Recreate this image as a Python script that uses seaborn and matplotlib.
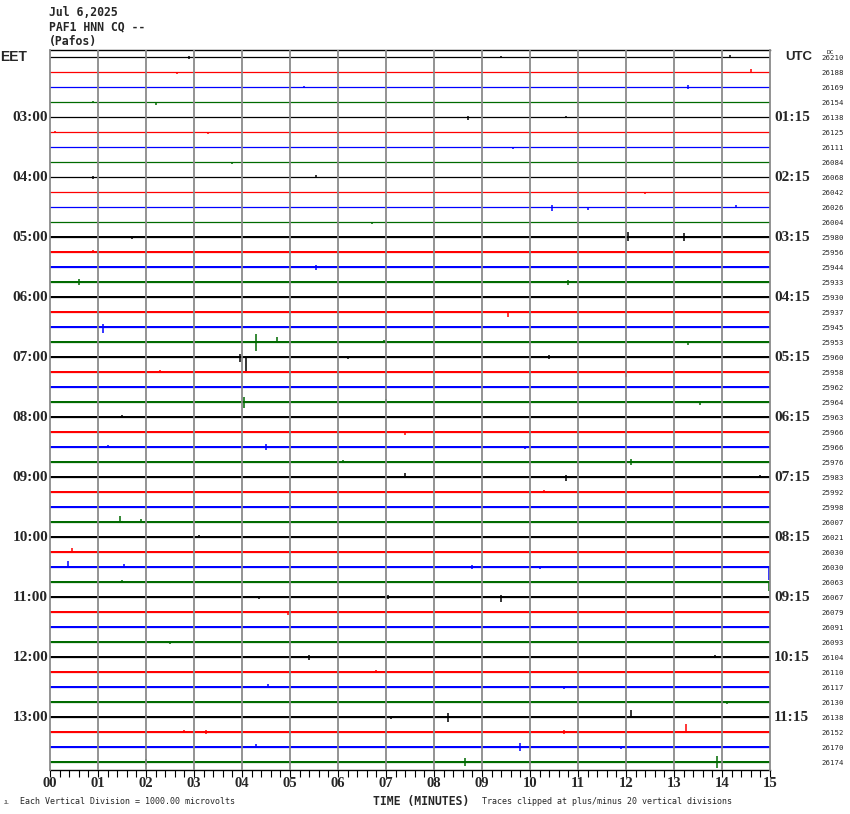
import matplotlib
matplotlib.use("Agg")
import matplotlib.pyplot as plt
import matplotlib.transforms as mtransforms
import numpy as np
import pandas as pd
import seaborn as sns

title_lines = ["Jul 6,2025", "PAF1 HNN CQ --", "(Pafos)"]

eet_labels = ["EET", "", "", "", "03:00", "", "", "", "04:00", "", "", "", "05:00", "", "", "",
              "06:00", "", "", "", "07:00", "", "", "", "08:00", "", "", "", "09:00", "", "", "",
              "10:00", "", "", "", "11:00", "", "", "", "12:00", "", "", "", "13:00", "", "", ""]
utc_labels = ["UTC", "", "", "", "01:15", "", "", "", "02:15", "", "", "", "03:15", "", "", "",
              "04:15", "", "", "", "05:15", "", "", "", "06:15", "", "", "", "07:15", "", "", "",
              "08:15", "", "", "", "09:15", "", "", "", "10:15", "", "", "", "11:15", "", "", ""]

dc_values = [26210, 26188, 26169, 26154, 26138, 26125, 26111, 26084, 26068, 26042, 26026, 26004,
             25980, 25956, 25944, 25933, 25930, 25937, 25945, 25953, 25960, 25958, 25962, 25964,
             25963, 25966, 25966, 25976, 25983, 25992, 25998, 26007, 26021, 26030, 26030, 26063,
             26067, 26079, 26091, 26093, 26104, 26110, 26117, 26130, 26138, 26152, 26170, 26174]

# background noise half-width per trace (1/15 of trace spacing)
noise = [0.5, 0.5, 0.5, 0.5, 0.5, 0.5, 0.5, 0.5, 0.5, 0.5, 0.5, 0.5,
         0.8, 0.8, 0.8, 0.9, 1.2, 1.2, 1.2, 1.2, 1.2, 1.2, 1.2, 1.2,
         1.2, 1.2, 1.2, 1.2, 1.2, 1.2, 1.2, 1.2, 1.3, 1.3, 1.4, 1.3,
         1.3, 1.3, 1.3, 1.3, 1.3, 1.3, 1.3, 1.3, 1.3, 1.3, 1.3, 1.3]

# spikes: trace index, minute, excursion up / down (1/15 of trace spacing)
spike_row = [0, 0, 0, 0, 0, 1, 1, 1, 2, 2, 3, 3, 3, 4, 4, 5, 5, 6, 7, 7, 8, 8, 9,
             10, 10, 10, 11, 12, 12, 12, 13, 14, 15, 15, 16, 17, 18, 18,
             19, 19, 19, 19, 20, 20, 20, 20, 21, 21, 22, 23, 23, 23, 24, 25, 25,
             26, 26, 26, 27, 27, 28, 28, 28, 29, 30, 31, 31, 32, 33, 33,
             34, 34, 34, 34, 34, 35, 35, 36, 36, 36, 37, 38, 39, 40, 40, 41,
             42, 42, 43, 44, 44, 44, 44, 45, 45, 45, 45, 46, 46, 46, 47, 47, 47, 47]
spike_minute = [2.9, 9.4, 14.17, 4.25, 6.1, 14.6, 7.45, 2.65, 13.3, 5.3, 2.2, 14.5, 0.9, 8.7, 10.75,
                3.3, 0.1, 9.65, 3.8, 13.0, 0.9, 5.55, 12.4,
                10.45, 14.3, 11.2, 6.7, 12.05, 13.2, 1.7, 0.9, 5.55, 0.6, 10.8, 5.0, 9.55, 1.1, 14.0,
                4.3, 4.72, 6.95, 13.3, 3.95, 4.08, 10.4, 6.2, 12.0, 2.3, 7.3, 4.05, 13.55, 7.0,
                1.5, 7.4, 4.0,
                4.5, 9.9, 1.2, 12.1, 6.1, 7.4, 10.75, 14.8, 10.3, 5.0, 1.45, 1.9, 3.1, 0.45, 12.5,
                0.37, 1.55, 14.97, 8.8, 10.2, 14.97, 1.5, 9.4, 7.05, 4.35, 4.95, 6.5, 2.5, 5.4, 13.85, 6.8,
                4.55, 10.7, 14.1, 8.3, 12.1, 2.0, 7.1, 13.25, 3.25, 10.7, 2.8, 9.8, 4.3, 11.9,
                2.0, 8.65, 13.9, 12.4]
spike_up = [1, 1, 2, 0, 0, 3, 0, 0, 2, 1, 0, 0, 1, 1, 1, 0, 1, 0, 0, 2, 1, 2, 0,
            2, 2, 0, 0, 5, 4, 1, 2, 2, 3, 2, 1, 0, 3, 1,
            8, 5, 2, 0, 3, 0, 2, 1, 0, 2, 1, 5, 1, 3, 2, 1, 1,
            3, 1, 2, 3, 2, 4, 2, 2, 2, 2, 6, 3, 2, 4, 1,
            6, 3, 1, 2, 1, 0, 2, 2, 2, 1, 1, 1, 0, 2, 2, 2,
            3, 1, 1, 4, 7, 2, 1, 8, 2, 2, 2, 4, 3, 1, 3, 4, 6, 1]
spike_down = [2, 1, 1, 1, 1, 0, 1, 2, 2, 0, 3, 1, 1, 3, 1, 2, 0, 2, 2, 0, 2, 0, 2,
              4, 1, 3, 2, 4, 4, 2, 0, 3, 3, 3, 1, 5, 6, 1,
              9, 0, 0, 3, 5, 14, 2, 2, 5, 0, 1, 6, 3, 0, 1, 3, 1,
              3, 2, 0, 3, 0, 0, 4, 0, 0, 2, 0, 0, 0, 0, 1,
              0, 0, 13, 2, 2, 9, 0, 5, 2, 2, 3, 1, 2, 3, 0, 0,
              1, 2, 2, 5, 0, 1, 2, 0, 2, 2, 0, 4, 0, 2, 3, 4, 6, 1]

minute_ticks = list(range(16))
minute_labels = ["%02d" % m for m in minute_ticks]

trace_colors = ["#000000", "#ff0000", "#0000ff", "#006a00"]
GRID = "#8a8a8a"
PX = 1.0 / 15.0  # one pixel in trace-spacing units

sns.set_theme(style="white")
plt.rcParams["font.family"] = ["DejaVu Sans"]

fig = plt.figure(figsize=(8.5, 8.14), dpi=100)
ax = fig.add_axes([50 / 850, 1 - 770 / 814, 720 / 850, 720 / 814])

n = len(dc_values)
rows = np.arange(n)
base = pd.DataFrame({
    "minute": np.tile([0.0, 15.0], n),
    "row": np.repeat(rows, 2).astype(float),
    "trace": np.repeat(rows, 2),
})
palette = [trace_colors[r % 4] for r in rows]
sns.lineplot(data=base, x="minute", y="row", hue="trace", palette=palette,
             estimator=None, legend=False, linewidth=0.9, ax=ax, zorder=2)

for r in rows:
    c = trace_colors[r % 4]
    ax.fill_between([0, 15], r - noise[r] * PX, r + noise[r] * PX, color=c, lw=0, zorder=2)

sp = pd.DataFrame({"row": spike_row, "minute": spike_minute, "up": spike_up, "down": spike_down})
sp["color"] = [trace_colors[r % 4] for r in sp["row"]]
ax.vlines(sp["minute"], sp["row"] - sp["up"] * PX, sp["row"] + sp["down"] * PX,
          colors=sp["color"], linewidth=1.1, zorder=3)

# minute grid
ax.vlines(minute_ticks[1:-1], -0.467, n - 0.467, colors=GRID, linewidth=1.3, zorder=4)

ax.set_xlim(0, 15)
ax.set_ylim(n - 0.467, -0.467)
ax.set_xlabel("")
ax.set_ylabel("")
ax.set_yticks([])
ax.set_xticks(minute_ticks)
ax.set_xticklabels(minute_labels, fontfamily="Liberation Serif", fontweight="bold", fontsize=10.5)
ax.set_xticks(np.arange(0, 15.01, 0.2), minor=True)
ax.tick_params(axis="x", which="both", direction="out", length=5, width=0.8,
               color="black", pad=0, bottom=True)
for side in ["top", "bottom"]:
    ax.spines[side].set_color("black")
    ax.spines[side].set_linewidth(1.0)
for side in ["left", "right"]:
    ax.spines[side].set_color(GRID)
    ax.spines[side].set_linewidth(1.3)
    ax.spines[side].set_zorder(5)

# left / right time labels
fig_x_data_y = mtransforms.blended_transform_factory(fig.transFigure, ax.transData)
for r in rows:
    lab = eet_labels[r]
    if lab == "EET":
        ax.text(0 / 850, r, lab, transform=fig_x_data_y, ha="left", va="center",
                fontfamily="Liberation Sans", fontweight="bold", fontsize=10)
    elif lab:
        ax.text(48 / 850, r, lab, transform=fig_x_data_y, ha="right", va="center",
                fontfamily="Liberation Serif", fontweight="bold", fontsize=11)
    lab = utc_labels[r]
    if lab == "UTC":
        ax.text(785 / 850, r, lab, transform=fig_x_data_y, ha="left", va="center",
                fontfamily="Liberation Sans", fontweight="bold", fontsize=9.5)
    elif lab:
        ax.text(774 / 850, r, lab, transform=fig_x_data_y, ha="left", va="center",
                fontfamily="Liberation Serif", fontweight="bold", fontsize=11)
    ax.text(821 / 850, r + 0.05, str(dc_values[r]), transform=fig_x_data_y, ha="left", va="center",
            fontfamily="DejaVu Sans Mono", fontsize=5.3)
fig.text(827 / 850, 1 - 52 / 814, "DC", ha="left", va="center",
         fontfamily="DejaVu Sans Mono", fontsize=4.5)

# header
for i, line in enumerate(title_lines):
    fig.text(49 / 850, 1 - (12 + 15 * i) / 814, line, ha="left", va="center",
             fontfamily="DejaVu Sans Mono", fontweight="bold", fontsize=8.3)

# footer
fig.text(4 / 850, 1 - 802 / 814, "JL", ha="left", va="center",
         fontfamily="DejaVu Sans Mono", fontsize=3.5)
fig.text(20 / 850, 1 - 801 / 814, "Each Vertical Division = 1000.00 microvolts", ha="left",
         va="center", fontfamily="DejaVu Sans Mono", fontsize=6)
fig.text(373 / 850, 1 - 801 / 814, "TIME (MINUTES)", ha="left", va="center",
         fontfamily="DejaVu Sans Mono", fontweight="bold", fontsize=8.3)
fig.text(482 / 850, 1 - 801 / 814, "Traces clipped at plus/minus 20 vertical divisions", ha="left",
         va="center", fontfamily="DejaVu Sans Mono", fontsize=6)

fig.savefig("out.png", dpi=100, facecolor="white")
